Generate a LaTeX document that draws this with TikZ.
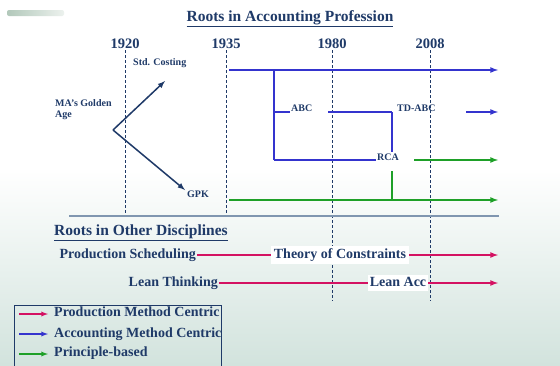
\documentclass[tikz,border=0pt]{standalone}
\usepackage{fontspec}
\setmainfont{Liberation Serif}
\usetikzlibrary{positioning}
\definecolor{shen}{RGB}{31,58,104}
\definecolor{lanse}{RGB}{52,52,206}
\definecolor{lvse}{RGB}{30,160,40}
\definecolor{hongse}{RGB}{212,18,98}
\definecolor{fenge}{RGB}{128,150,176}
\definecolor{dise}{RGB}{210,227,221}
\definecolor{mohu}{RGB}{178,200,186}

\begin{document}
\begin{tikzpicture}[x=1pt,y=-1pt,>=latex]
\tikzset{wen/.style={text=shen, inner sep=1pt}}
\tikzset{biaoti/.style={wen, font=\fontsize{15.5}{17}\selectfont\bfseries}}
\tikzset{nian/.style={wen, font=\fontsize{14.5}{16}\selectfont\bfseries}}
\tikzset{xiao/.style={wen, font=\fontsize{10}{12}\selectfont\bfseries}}
\tikzset{zhong/.style={wen, font=\fontsize{14}{16}\selectfont\bfseries, text height=9.5pt, text depth=3pt}}
\tikzset{xu/.style={draw, shen, line width=0.8pt, dash pattern=on 3pt off 2pt}}
\tikzset{lan/.style={draw, lanse, line width=1.6pt}}
\tikzset{lanjian/.style={lan, ->}}
\tikzset{lv/.style={draw, lvse, line width=1.6pt}}
\tikzset{lvjian/.style={lv, ->}}
\tikzset{hong/.style={draw, hongse, line width=1.6pt}}
\tikzset{hongjian/.style={hong, ->}}
\tikzset{heijian/.style={draw, shen, line width=1.5pt, ->}}

\useasboundingbox (0,0) rectangle (560,365);
\fill[white] (0,0) rectangle (560,365);
\shade[top color=white, bottom color=dise] (0,170) rectangle (560,365);
\shade[left color=mohu, right color=mohu!25, rounded corners=2pt] (7,10) rectangle (64,16);

% upper part
\node[biaoti](title)at(290,19){\underline{Roots in Accounting Profession}};
\node[nian](n1920)at(125,44){1920};
\node[nian](n1935)at(226,44){1935};
\node[nian](n1980)at(332,44){1980};
\node[nian](n2008)at(430,44){2008};

\coordinate (d1920) at (125,216);
\coordinate (d1935) at (226,216);
\coordinate (d1980) at (332,301);
\coordinate (d2008) at (430,301);
\path[xu] (n1920) -- (d1920);
\path[xu] (n1935) -- (d1935);
\path[xu] (n1980) -- (d1980);
\path[xu] (n2008) -- (d2008);

\coordinate (s1) at (69,216);
\coordinate (s2) at (499,216);
\path[draw, fenge, line width=1.5pt] (s1) -- (s2);

\node[xiao, anchor=west](std)at(132,63){Std. Costing};
\node[xiao, anchor=west, align=left](gold)at(54,110){MA's Golden\\[-1pt]Age};
\node[xiao](gpk)at(198,194){GPK};
\coordinate (v0) at (113,130);
\coordinate (v1) at (165,81);
\coordinate (v2) at (185,190);
\path[heijian] (v0) -- (v1);
\path[heijian] (v0) -- (v2);

\node[xiao, anchor=west](abc)at(290,108){ABC};
\node[xiao, anchor=west](tdabc)at(396,108){TD-ABC};
\node[xiao](rca)at(388,157){RCA};

\coordinate (a1) at (229,70);
\coordinate (a2) at (498,70);
\coordinate (a3) at (274,70);
\coordinate (a4) at (274,112);
\coordinate (a5) at (274,160);
\coordinate (a6) at (328,112);
\coordinate (a7) at (392,112);
\coordinate (a8) at (466,112);
\coordinate (a9) at (498,112);
\path[lanjian] (a1) -- (a2);
\path[lan] (a3) -- (a5);
\path[lan] (a4) -- (a4 -| abc.west);
\path[lan] (a6) -- (a7);
\path[lanjian] (a8) -- (a9);
\path[lan] (a7) -- (a7 |- rca.north);
\path[lan] (a5) -- (a5 -| rca.west);

\coordinate (b1) at (414,160);
\coordinate (b2) at (498,160);
\coordinate (b3) at (392,171);
\coordinate (b4) at (392,200);
\coordinate (b5) at (229,200);
\coordinate (b6) at (498,200);
\path[lvjian] (b1) -- (b2);
\path[lv] (b3) -- (b4);
\path[lvjian] (b5) -- (b6);

% lower part
\node[biaoti, anchor=west](other)at(53,233){\underline{Roots in Other Disciplines}};
\node[zhong, anchor=east](ps)at(197,255){Production Scheduling};
\node[zhong, fill=white, inner sep=3pt](toc)at(340,255){Theory of Constraints};
\coordinate (p1) at (498,255);
\path[hong] (ps) -- (toc);
\path[hongjian] (toc) -- (p1);

\node[zhong, anchor=east](lt)at(219,283){Lean Thinking};
\node[zhong, fill=white, inner sep=2pt](la)at(398,283){Lean Acc};
\coordinate (p2) at (498,283);
\path[hong] (lt) -- (la);
\path[hongjian] (la) -- (p2);

% legend
\draw[shen, line width=0.9pt] (14,305) rectangle (221,372);
\begin{scope}
\clip (14,305) rectangle (220.5,372);
\node[zhong, anchor=west](l1)at(53,313){Production Method Centric};
\node[zhong, anchor=west](l2)at(53,334){Accounting Method Centric};
\node[zhong, anchor=west](l3)at(53,353){Principle-based};
\end{scope}
\coordinate (e1) at (19,314);
\coordinate (e2) at (19,334);
\coordinate (e3) at (19,354);
\coordinate (f1) at (48,314);
\coordinate (f2) at (48,334);
\coordinate (f3) at (48,354);
\path[hongjian, line width=1.3pt] (e1) -- (f1);
\path[lanjian, line width=1.3pt] (e2) -- (f2);
\path[lvjian, line width=1.3pt] (e3) -- (f3);
\end{tikzpicture}
\end{document}
